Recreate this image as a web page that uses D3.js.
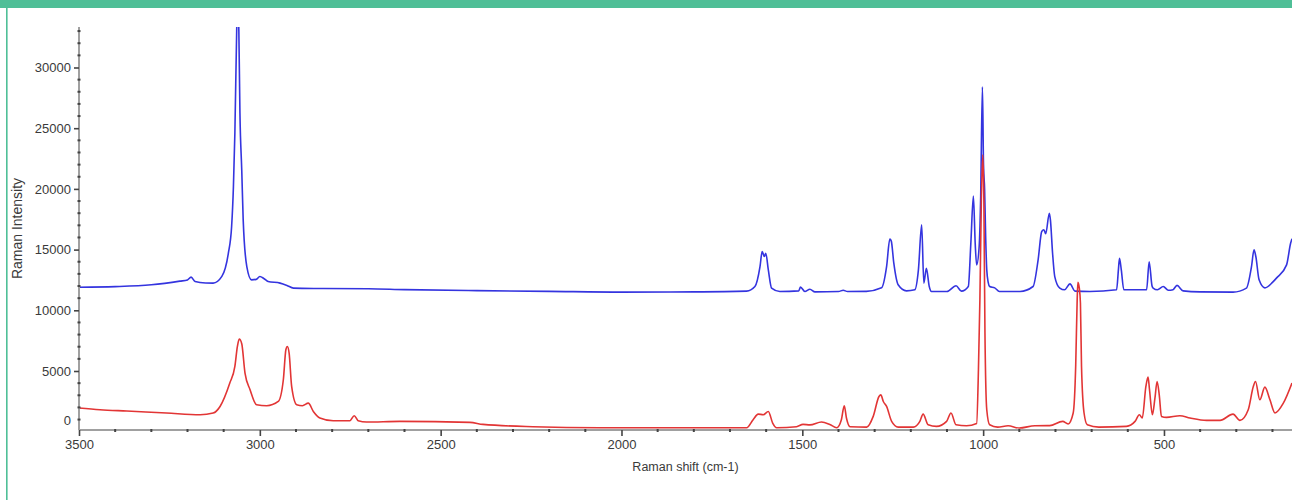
<!DOCTYPE html>
<html><head><meta charset="utf-8">
<script src="https://cdn.jsdelivr.net/npm/d3@7"></script>
<style>
html,body{margin:0;padding:0;background:#fff;}
svg{display:block;}
text{font-family:"Liberation Sans",Arial,sans-serif;}
</style></head>
<body>
<svg id="chart" width="1292" height="500"></svg>
<script>
// Raman spectra (shift in cm-1, intensity in counts)
const blueShift = [3500,3400,3300,3221,3200,3190,3179,3150,3129,3105,3087,3078,3073,3069,3064,3061,3058,3055,3050,3046,3036,3023,3010,3000,2988,2977,2944,2925,2907,2850,2700,2600,2400,2200,2000,1800,1654,1631,1617,1611,1605,1601,1594,1585,1562,1510,1505,1493,1479,1465,1400,1387,1375,1323,1281,1267,1258,1254,1247,1235,1212,1189,1179,1170,1164,1157,1149,1143,1100,1075,1060,1041,1034,1027,1022,1018,1011,1007,1002,999,996,993,990,986,982,968,955,898,862,848,838,832,827,817,814,808,802,788,775,760,746,705,631,626,623,618,611,548,541,533,530,518,502,488,475,464,447,400,309,272,258,251,246,237,221,200,189,161,150,146];
const blueValues = [11900,11950,12100,12400,12500,12730,12370,12250,12240,12790,14710,16900,20190,24610,33000,36000,33000,26250,21560,17450,13600,12510,12550,12780,12600,12370,12240,12050,11830,11800,11780,11700,11620,11560,11500,11520,11580,11960,13600,14840,14430,14700,13330,11830,11550,11600,11910,11550,11740,11520,11550,11650,11550,11560,11850,13600,15860,15700,13880,12100,11600,11690,13330,17040,12240,13460,11960,11550,11550,12020,11580,11960,15530,19420,15530,13740,15250,19090,28400,22000,20000,16000,13330,12300,11960,11850,11550,11550,11960,14160,16490,16630,16300,18000,17450,14700,12780,11830,11690,12180,11580,11550,11690,13330,14290,13330,11690,11690,14000,12000,11830,11690,11960,11650,11700,12050,11600,11520,11500,11830,13600,14980,14430,12510,11850,12300,12650,13740,15500,15900];
const redShift = [3500,3442,3368,3258,3165,3129,3110,3083,3069,3062,3057,3050,3041,3027,3009,2981,2949,2935,2928,2924,2919,2912,2898,2882,2866,2852,2834,2797,2751,2739,2728,2705,2613,2419,2383,2245,2060,1654,1636,1622,1608,1594,1582,1571,1516,1498,1479,1447,1424,1405,1392,1384,1378,1368,1322,1304,1288,1283,1276,1267,1253,1235,1193,1175,1166,1152,1129,1101,1089,1075,1046,1018,1013,1009,1005,1001,998,995,990,982,960,931,900,857,816,780,765,751,744,740,738,734,731,728,721,712,680,604,580,568,560,550,544,540,532,525,519,513,507,493,456,428,382,345,309,290,267,253,247,235,221,207,193,170,146];
const redValues = [1950,1810,1700,1540,1400,1540,2080,4010,5380,7020,7630,7240,4830,3460,2220,2140,2490,4280,6750,7020,6470,3730,2220,2140,2350,1670,1130,900,900,1320,900,800,850,770,600,410,330,330,990,1450,1400,1670,710,330,410,600,560,800,600,330,990,2140,1130,410,380,1260,2900,3030,2490,2080,850,380,380,850,1450,570,440,850,1540,570,490,680,5100,10860,19000,22800,19000,8150,1810,570,380,490,300,490,500,850,640,1540,5510,10860,12300,11800,10600,5380,1540,570,380,440,850,1400,1130,3730,4500,3460,1400,2760,4140,3020,1260,1180,1320,1130,930,930,1450,930,1810,3730,4140,2630,3670,2630,1540,2350,4010];
const xMajorTicks = [3500,3000,2500,2000,1500,1000,500];
const yMajorTicks = [5000,10000,15000,20000,25000,30000];
const xTitle = "Raman shift (cm-1)";
const yTitle = "Raman Intensity";

const svg = d3.select("#chart");
const W = 1292, H = 500;
const mLeft = 79, mRight = 1292, mTop = 27, mBottom = 430;

// frame decoration
svg.append("rect").attr("x",0).attr("y",0).attr("width",W).attr("height",8).attr("fill","#4fbf97");
svg.append("rect").attr("x",6).attr("y",8).attr("width",1.6).attr("height",H-8).attr("fill","#4fbf97");

const x = d3.scaleLinear().domain([3500,146]).range([mLeft,mRight]);
const y = d3.scaleLinear().domain([140,33336]).range([mBottom,mTop]);

svg.append("defs").append("clipPath").attr("id","clip")
  .append("rect").attr("x",mLeft).attr("y",mTop).attr("width",mRight-mLeft).attr("height",mBottom-mTop);

const line = d3.line().x(d=>x(d[0])).y(d=>y(d[1])).curve(d3.curveMonotoneX);
const blue = blueShift.map((s,i)=>[s,blueValues[i]]);
const red = redShift.map((s,i)=>[s,redValues[i]]);

const g = svg.append("g").attr("clip-path","url(#clip)");
g.append("path").datum(blue).attr("d",line).attr("fill","none").attr("stroke","#3434df").attr("stroke-width",1.6).attr("stroke-linejoin","round");
g.append("path").datum(red).attr("d",line).attr("fill","none").attr("stroke","#e23535").attr("stroke-width",1.6).attr("stroke-linejoin","round");

// X axis
const xMinor = d3.range(3400,146,-100).filter(v=>v%500!==0);
const xAx = svg.append("g").attr("transform",`translate(0,${mBottom})`);
xAx.append("line").attr("x1",mLeft).attr("x2",mRight).attr("y1",0).attr("y2",0).attr("stroke","#a0a0a0").attr("stroke-width",2);
xAx.call(d3.axisBottom(x).tickValues(xMajorTicks).tickSize(6).tickPadding(4).tickFormat(d3.format("d")));
xAx.select(".domain").remove();
xAx.selectAll(".tick line").attr("stroke","#444").attr("stroke-width",1.6);
xAx.selectAll(".tick text").attr("fill","#3a3a3a").attr("font-size","13px").attr("font-family","Liberation Sans, Arial, sans-serif");
xAx.selectAll(".minor").data(xMinor).enter().append("rect").attr("class","minor")
  .attr("x",d=>x(d)-1).attr("y",-1).attr("width",2).attr("height",3).attr("fill","#444");

// Y axis
const yMinor = d3.range(1000,33400,1000).filter(v=>v%5000!==0);
const yAx = svg.append("g").attr("transform",`translate(${mLeft},0)`);
yAx.append("line").attr("x1",0).attr("x2",0).attr("y1",mTop).attr("y2",mBottom).attr("stroke","#a0a0a0").attr("stroke-width",2);
yAx.call(d3.axisLeft(y).tickValues(yMajorTicks).tickSize(5).tickPadding(3).tickFormat(d3.format("d")));
yAx.select(".domain").remove();
yAx.selectAll(".tick line").attr("stroke","#444").attr("stroke-width",1.6);
yAx.selectAll(".tick text").attr("fill","#3a3a3a").attr("font-size","13px").attr("font-family","Liberation Sans, Arial, sans-serif");
yAx.selectAll(".minor").data(yMinor).enter().append("rect").attr("class","minor")
  .attr("x",-1.5).attr("y",d=>y(d)-1).attr("width",3).attr("height",2).attr("fill","#444");
// zero label, drawn just above the axis line
yAx.append("text").attr("x",-8).attr("y",y(0)-10.5).attr("dy","0.32em").attr("text-anchor","end")
  .attr("fill","#3a3a3a").attr("font-size","13px").text("0");

// Titles
svg.append("text").attr("x",(mLeft+mRight)/2).attr("y",471).attr("text-anchor","middle")
  .attr("fill","#3a3a3a").attr("font-size","12.5px").text(xTitle);
svg.append("text").attr("transform",`translate(22,${(mTop+mBottom)/2}) rotate(-90)`).attr("text-anchor","middle")
  .attr("fill","#3a3a3a").attr("font-size","14px").text(yTitle);
</script>
</body></html>
